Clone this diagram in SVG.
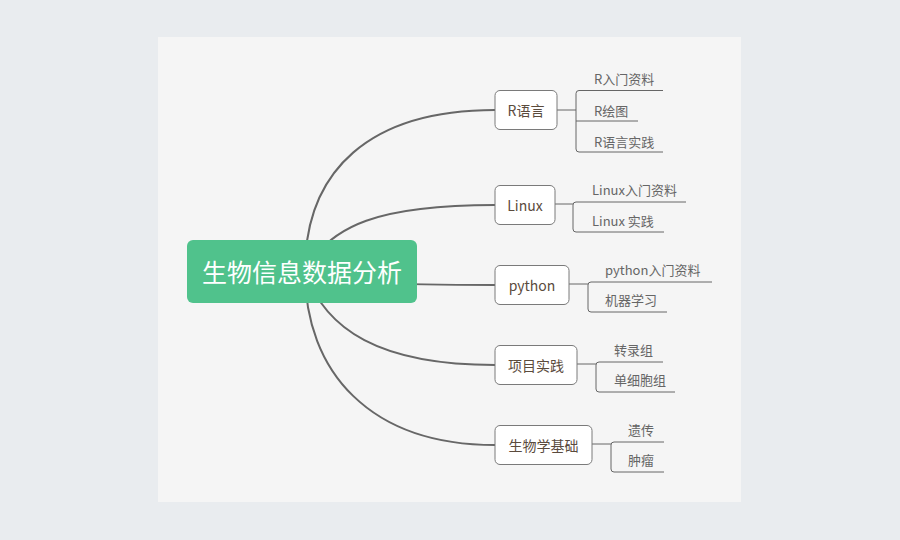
<svg xmlns="http://www.w3.org/2000/svg" width="900" height="540" viewBox="0 0 900 540">
<style>
.main{fill:none;stroke:#676767;stroke-width:2;stroke-linecap:round}
.sub{fill:none;stroke:#666;stroke-width:1}
.box{fill:#fff;stroke:#7a7a7a;stroke-width:1}
.bt{font-family:"Noto Sans CJK SC","Microsoft YaHei",sans-serif;font-size:14px;fill:#5b4b3d;text-anchor:middle;dominant-baseline:central}
.st{font-family:"Noto Sans CJK SC","Microsoft YaHei",sans-serif;font-size:13px;fill:#666;dominant-baseline:central}
.rt{font-family:"Noto Sans CJK SC","Microsoft YaHei",sans-serif;font-size:25px;fill:#fff;text-anchor:middle;dominant-baseline:central}
</style>
<rect width="900" height="540" fill="#e9ecef"/>
<rect x="158" y="37" width="583" height="465" fill="#f5f5f5"/>
<g id="connectors">
<path class="main" d="M305,271 C305,170 370,110 495,110"/>
<path class="main" d="M305,271 C330,225 380,205 495,205"/>
<path class="main" d="M305,271 C340,284 400,285 495,285"/>
<path class="main" d="M305,271 C325,330 380,365 495,365"/>
<path class="main" d="M305,271 C305,372 370,445 495,445"/>
<path class="sub" d="M557,110 H576 M663,90.5 H579 Q576,90.5 576,93.5 V149 Q576,152 579,152 H663 M576,121 H638"/>
<path class="sub" d="M555,204 H573 M686,202 H576 Q573,202 573,205 V229 Q573,232 576,232 H664"/>
<path class="sub" d="M569,284 H588 M712,282 H591 Q588,282 588,285 V309 Q588,312 591,312 H667"/>
<path class="sub" d="M577,364 H596 M663,362 H599 Q596,362 596,365 V389 Q596,392 599,392 H675"/>
<path class="sub" d="M592,444 H611 M664,442 H614 Q611,442 611,445 V469 Q611,472 614,472 H664"/>
</g>
<g id="root">
<rect x="187" y="240" width="230" height="63" rx="6" fill="#50c28c"/>
<text class="rt" x="302" y="271">生物信息数据分析</text>
</g>
<g id="n-r">
<rect class="box" x="495" y="90.5" width="62" height="39" rx="5"/>
<text class="bt" x="526" y="110">R语言</text>
<text class="st" x="594" y="78">R入门资料</text>
<text class="st" x="594" y="110">R绘图</text>
<text class="st" x="594" y="141">R语言实践</text>
</g>
<g id="n-linux">
<rect class="box" x="495" y="185.5" width="60" height="39" rx="5"/>
<text class="bt" x="525" y="205">Linux</text>
<text class="st" x="592" y="189">Linux入门资料</text>
<text class="st" x="592" y="220">Linux 实践</text>
</g>
<g id="n-python">
<rect class="box" x="495" y="265.5" width="74" height="39" rx="5"/>
<text class="bt" x="532" y="285">python</text>
<text class="st" x="605" y="269">python入门资料</text>
<text class="st" x="605" y="299">机器学习</text>
</g>
<g id="n-project">
<rect class="box" x="495" y="345.5" width="82" height="39" rx="5"/>
<text class="bt" x="536" y="365">项目实践</text>
<text class="st" x="614" y="349">转录组</text>
<text class="st" x="614" y="379">单细胞组</text>
</g>
<g id="n-bio">
<rect class="box" x="495" y="425.5" width="97" height="39" rx="5"/>
<text class="bt" x="543.5" y="445">生物学基础</text>
<text class="st" x="628" y="429">遗传</text>
<text class="st" x="628" y="459">肿瘤</text>
</g>
</svg>
